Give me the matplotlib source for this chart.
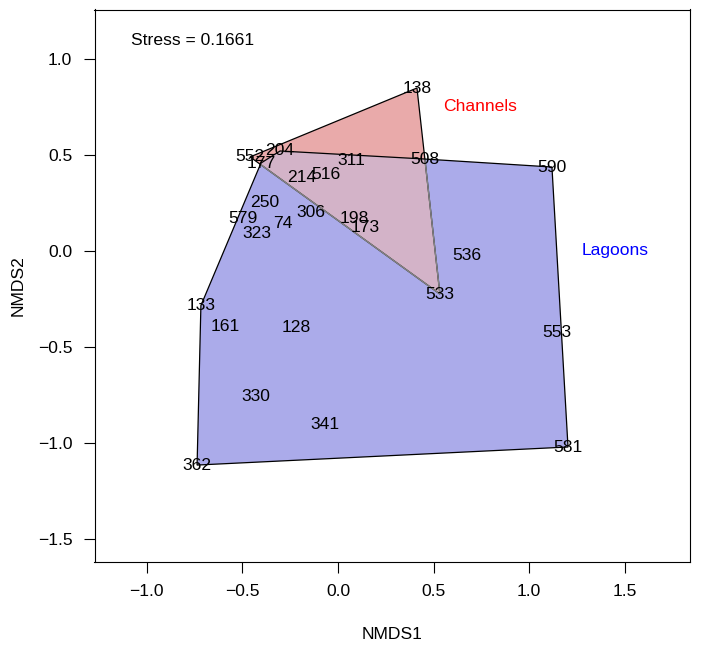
import matplotlib
matplotlib.use("Agg")
import matplotlib.pyplot as plt
from matplotlib.patches import Polygon
import numpy as np

plt.rcParams['font.family'] = ['Liberation Sans', 'DejaVu Sans']

# ---- data (NMDS scores) ----
site_labels = ['138', '552', '533', '214', '516', '311', '198', '173',
               '204', '177', '508', '590', '581', '362', '133', '553', '536',
               '250', '579', '323', '74', '306', '161', '128', '330', '341']
nmds1 = [0.413, -0.460, 0.533, -0.188, -0.063, 0.068, 0.084, 0.141,
         -0.303, -0.403, 0.455, 1.119, 1.203, -0.737, -0.717, 1.145, 0.675,
         -0.382, -0.497, -0.424, -0.288, -0.141, -0.591, -0.220, -0.429, -0.068]
nmds2 = [0.849, 0.490, -0.224, 0.385, 0.396, 0.474, 0.167, 0.120,
         0.521, 0.458, 0.479, 0.4375, -1.021, -1.115, -0.284, -0.422, -0.021,
         0.255, 0.167, 0.089, 0.141, 0.203, -0.391, -0.401, -0.760, -0.906]
habitat = ['Channels'] * 8 + ['Lagoons'] * 18

group_names = ['Channels', 'Lagoons']
group_label_x = [0.743, 1.449]
group_label_y = [0.755, 0.005]
group_text_colors = ['#FF0000', '#0000FF']
stress = 0.1661

xticks = [-1.0, -0.5, 0.0, 0.5, 1.0, 1.5]
yticks = [-1.5, -1.0, -0.5, 0.0, 0.5, 1.0]

FS = 12.6


def convex_hull(pts):
    pts = sorted(set(pts))
    if len(pts) <= 2:
        return pts

    def cross(o, a, b):
        return (a[0] - o[0]) * (b[1] - o[1]) - (a[1] - o[1]) * (b[0] - o[0])
    lower, upper = [], []
    for p in pts:
        while len(lower) >= 2 and cross(lower[-2], lower[-1], p) <= 0:
            lower.pop()
        lower.append(p)
    for p in reversed(pts):
        while len(upper) >= 2 and cross(upper[-2], upper[-1], p) <= 0:
            upper.pop()
        upper.append(p)
    return lower[:-1] + upper[:-1]


hulls = {}
for g in group_names:
    pts = [(x, y) for x, y, h in zip(nmds1, nmds2, habitat) if h == g]
    hulls[g] = np.array(convex_hull(pts))

fig = plt.figure(figsize=(7.05, 6.45), dpi=100)
ax = fig.add_axes([94.5 / 705, 1 - 562 / 645, (690 - 94.5) / 705, (562 - 9.5) / 645])
ax.set_xlim(-1.2735, 1.841)
ax.set_ylim(-1.620, 1.258)

ch = hulls['Channels']
lg = hulls['Lagoons']

# fills
lag_fill = Polygon(lg, closed=True, facecolor='#ABABEA', edgecolor='none', zorder=1)
ax.add_patch(lag_fill)
ch_fill = Polygon(ch, closed=True, facecolor='#E9AAAA', edgecolor='none', zorder=1.5)
ax.add_patch(ch_fill)
overlap = Polygon(ch, closed=True, facecolor='#D3B3C8', edgecolor='none', zorder=2)
ax.add_patch(overlap)
overlap.set_clip_path(lag_fill)

# outlines
ch_edge = Polygon(ch, closed=True, facecolor='none', edgecolor='black', lw=0.9, zorder=3)
ax.add_patch(ch_edge)
ch_edge_in = Polygon(ch, closed=True, facecolor='none', edgecolor='#858585', lw=1.0, zorder=3.5)
ax.add_patch(ch_edge_in)
clip_lag = Polygon(lg, closed=True, transform=ax.transData)
ch_edge_in.set_clip_path(clip_lag)
lag_edge = Polygon(lg, closed=True, facecolor='none', edgecolor='black', lw=0.9, zorder=4)
ax.add_patch(lag_edge)

# site labels
for lab, x, y in zip(site_labels, nmds1, nmds2):
    ax.text(x, y, lab, ha='center', va='center', fontsize=FS, color='black', zorder=5)

for g, gx, gy, c in zip(group_names, group_label_x, group_label_y, group_text_colors):
    ax.text(gx, gy, g, ha='center', va='center', fontsize=FS, color=c, zorder=5)

ax.text(-1.083, 1.094, f'Stress = {stress}', ha='left', va='center', fontsize=FS, zorder=5)

ax.set_xticks(xticks)
ax.set_yticks(yticks)
ax.set_xticklabels([f'{t:.1f}'.replace('-', '\u2212') for t in xticks])
ax.set_yticklabels([f'{t:.1f}'.replace('-', '\u2212') for t in yticks])
ax.tick_params(direction='out', length=8, width=0.8, labelsize=FS, pad=8)
for s in ax.spines.values():
    s.set_linewidth(0.8)
ax.set_xlabel('NMDS1', fontsize=FS, labelpad=20)
ax.set_ylabel('NMDS2', fontsize=FS, labelpad=9)

fig.savefig('out.png', dpi=100)
